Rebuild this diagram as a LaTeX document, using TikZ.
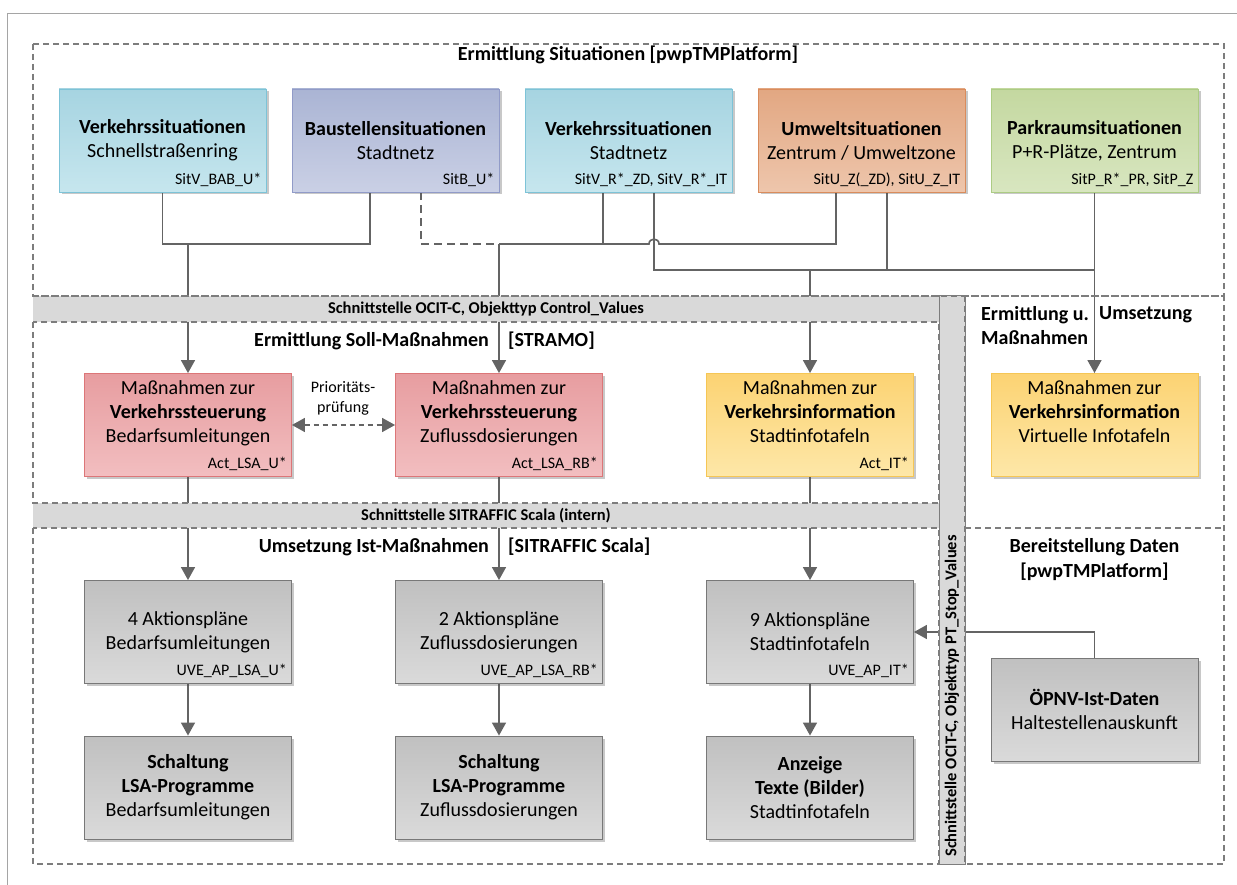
\documentclass[tikz,border=0pt]{standalone}
\usepackage{fontspec}
\setmainfont{Carlito}
\usetikzlibrary{arrows.meta,shadows}
\pgfdeclarelayer{bg}
\pgfdeclarelayer{mid}
\pgfsetlayers{bg,mid,main}
\definecolor{lineC}{RGB}{100,100,100}
\definecolor{sectC}{RGB}{125,125,125}
\definecolor{barC}{RGB}{217,217,217}
\definecolor{frameC}{RGB}{165,165,165}
\definecolor{blueT}{RGB}{166,212,225}
\definecolor{blueB}{RGB}{198,230,238}
\definecolor{blueD}{RGB}{125,195,215}
\definecolor{lavT}{RGB}{170,180,212}
\definecolor{lavB}{RGB}{202,208,229}
\definecolor{lavD}{RGB}{145,155,200}
\definecolor{oraT}{RGB}{226,167,130}
\definecolor{oraB}{RGB}{238,198,172}
\definecolor{oraD}{RGB}{218,140,92}
\definecolor{grnT}{RGB}{196,216,160}
\definecolor{grnB}{RGB}{216,230,192}
\definecolor{grnD}{RGB}{172,204,132}
\definecolor{redT}{RGB}{231,157,160}
\definecolor{redB}{RGB}{242,190,192}
\definecolor{redD}{RGB}{220,118,120}
\definecolor{yelT}{RGB}{252,211,115}
\definecolor{yelB}{RGB}{253,231,168}
\definecolor{yelD}{RGB}{245,198,85}
\definecolor{gryT}{RGB}{192,192,192}
\definecolor{gryB}{RGB}{218,218,218}
\definecolor{gryD}{RGB}{120,120,120}
\begin{document}
\begin{tikzpicture}[x=1pt,y=-1pt,
  conn/.style={draw=lineC, line width=1.6pt},
  arr/.style={conn, -{Triangle[width=14pt,length=13pt]}},
  sect/.style={draw=sectC, line width=1.2pt, dash pattern=on 6pt off 4pt},
  sbox/.style={draw, line width=0.9pt, minimum width=207pt, minimum height=103pt,
     inner sep=0pt, align=center, font=\fontsize{20}{24}\selectfont,
     drop shadow={shadow xshift=2.5pt, shadow yshift=-2.5pt, opacity=0.3, fill=black!70}},
  sblue/.style={sbox, draw=blueD, top color=blueT, bottom color=blueB},
  slav/.style={sbox, draw=lavD, top color=lavT, bottom color=lavB},
  sora/.style={sbox, draw=oraD, top color=oraT, bottom color=oraB},
  sgrn/.style={sbox, draw=grnD, top color=grnT, bottom color=grnB},
  sred/.style={sbox, draw=redD, top color=redT, bottom color=redB},
  syel/.style={sbox, draw=yelD, top color=yelT, bottom color=yelB},
  sgry/.style={sbox, draw=gryD, top color=gryT, bottom color=gryB},
  code/.style={font=\fontsize{16}{19}\selectfont, inner sep=0pt, anchor=base east},
  title/.style={font=\bfseries\fontsize{20}{24}\selectfont, inner sep=0pt},
  bartext/.style={font=\bfseries\fontsize{16.5}{19}\selectfont, inner sep=0pt},
]
\begin{pgfonlayer}{bg}
\fill[white] (0,0) rectangle (1237,885);
\end{pgfonlayer}
\useasboundingbox (0,0) rectangle (1237,885);
% outer frame
\draw[frameC, line width=1pt] (7,885) -- (7,14) -- (1237,14);

% top boxes
\node[sblue] (b1) at (162.5,140.5) {\textbf{Verkehrssituationen}\\Schnellstraßenring};
\node[slav]  (b2) at (395.5,140.5) {\textbf{Baustellensituationen}\\Stadtnetz};
\node[sblue] (b3) at (628.5,140.5) {\textbf{Verkehrssituationen}\\Stadtnetz};
\node[sora]  (b4) at (861.5,140.5) {\textbf{Umweltsituationen}\\Zentrum / Umweltzone};
\node[sgrn]  (b5) at (1094.5,140.5) {\textbf{Parkraumsituationen}\\P+R-Plätze, Zentrum};
\node[code] (c1) at ([xshift=-5pt,yshift=8pt]b1.south east) {SitV\_BAB\_U*};
\node[code] (c2) at ([xshift=-5pt,yshift=8pt]b2.south east) {SitB\_U*};
\node[code] (c3) at ([xshift=-5pt,yshift=8pt]b3.south east) {SitV\_R*\_ZD, SitV\_R*\_IT};
\node[code] (c4) at ([xshift=-5pt,yshift=8pt]b4.south east) {SitU\_Z(\_ZD), SitU\_Z\_IT};
\node[code] (c5) at ([xshift=-5pt,yshift=8pt]b5.south east) {SitP\_R*\_PR, SitP\_Z};

% action boxes
\node[sred] (a1) at (188,425) {Maßnahmen zur\\\textbf{Verkehrssteuerung}\\Bedarfsumleitungen\\\vphantom{g}};
\node[sred] (a2) at (499,425) {Maßnahmen zur\\\textbf{Verkehrssteuerung}\\Zuflussdosierungen\\\vphantom{g}};
\node[syel] (a3) at (810,425) {Maßnahmen zur\\\textbf{Verkehrsinformation}\\Stadtinfotafeln\\\vphantom{g}};
\node[syel] (v)  at (1094.5,425) {Maßnahmen zur\\\textbf{Verkehrsinformation}\\Virtuelle Infotafeln\\\vphantom{g}};
\node[code] (ca1) at ([xshift=-5pt,yshift=8pt]a1.south east) {Act\_LSA\_U*};
\node[code] (ca2) at ([xshift=-5pt,yshift=8pt]a2.south east) {Act\_LSA\_RB*};
\node[code] (ca3) at ([xshift=-5pt,yshift=8pt]a3.south east) {Act\_IT*};

% action plans
\node[sgry] (p1) at (188,632) {4 Aktionspläne\\Bedarfsumleitungen};
\node[sgry] (p2) at (499,632) {2 Aktionspläne\\Zuflussdosierungen};
\node[sgry] (p3) at (810,632) {9 Aktionspläne\\Stadtinfotafeln};
\node[code] (cp1) at ([xshift=-5pt,yshift=8pt]p1.south east) {UVE\_AP\_LSA\_U*};
\node[code] (cp2) at ([xshift=-5pt,yshift=8pt]p2.south east) {UVE\_AP\_LSA\_RB*};
\node[code] (cp3) at ([xshift=-5pt,yshift=8pt]p3.south east) {UVE\_AP\_IT*};

% switching
\node[sgry] (s1) at (188,787.5) {\textbf{Schaltung}\\\textbf{LSA-Programme}\\Bedarfsumleitungen};
\node[sgry] (s2) at (499,787.5) {\textbf{Schaltung}\\\textbf{LSA-Programme}\\Zuflussdosierungen};
\node[sgry] (s3) at (810,787.5) {\textbf{Anzeige}\\\textbf{Texte (Bilder)}\\Stadtinfotafeln};
\node[sgry] (o)  at (1094.5,709.5) {\textbf{ÖPNV-Ist-Daten}\\Haltestellenauskunft};

% section titles
\node[title] (t1) at (628,55) {Ermittlung Situationen [pwpTMPlatform]};
\node[title, anchor=east] (t2a) at (489,341) {Ermittlung Soll-Maßnahmen};
\node[title, anchor=west] (t2b) at (508,341) {[STRAMO]};
\node[title, anchor=east] (t3a) at (489,547) {Umsetzung Ist-Maßnahmen};
\node[title, anchor=west] (t3b) at (508,547) {[SITRAFFIC Scala]};
\node[title, anchor=west] (t4a) at (981,315) {Ermittlung u.};
\node[title, anchor=west] (t4b) at (1099,315) {Umsetzung};
\node[title, anchor=west] (t4c) at (981,338) {Maßnahmen};
\node[title, align=center, font=\bfseries\fontsize{20}{25}\selectfont] (t5) at (1094.5,559.5) {Bereitstellung Daten\\{[pwpTMPlatform]}};
\node[font=\fontsize{16}{20}\selectfont, align=center, inner sep=0pt] (prio) at (343,398) {Prioritäts-\\prüfung};

% bars and section frames
\begin{pgfonlayer}{mid}
\node[fill=barC, minimum width=906pt, minimum height=26pt, inner sep=0pt, bartext] (ocit) at (486,309) {Schnittstelle OCIT-C, Objekttyp Control\_Values};
\node[fill=barC, minimum width=906pt, minimum height=25pt, inner sep=0pt, bartext] (sitr) at (486,515.5) {Schnittstelle SITRAFFIC Scala (intern)};
\node[fill=barC, draw=sectC, line width=1pt, minimum width=26pt, minimum height=568pt, inner sep=0pt] (vbar) at (952,580) {};
\node[bartext, rotate=90] (vtext) at (952,696) {Schnittstelle OCIT-C, Objekttyp PT\_Stop\_Values};
\draw[sect] (33,44) rectangle (1224,296);
\draw[sect] (33,322) rectangle (939,503);
\draw[sect] (33,528) rectangle (939,864);
\draw[sect] (965,296) rectangle (1224,864);
\draw[sect] (965,528) -- (1224,528);
\draw[sect] (33,296) -- (939,296);
\end{pgfonlayer}

% connectors
\begin{pgfonlayer}{bg}
\coordinate (r1) at (0,244);
\coordinate (r2) at (0,270);
\coordinate (b2l) at ([xshift=-25.5pt]b2.south);
\coordinate (b2r) at ([xshift=25.5pt]b2.south);
\coordinate (b3l) at ([xshift=-25.5pt]b3.south);
\coordinate (b3r) at ([xshift=25.5pt]b3.south);
\coordinate (b4l) at ([xshift=-25.5pt]b4.south);
\coordinate (b4r) at ([xshift=25.5pt]b4.south);
\draw[conn] (b1.south) |- (b2l |- r1) -- (b2l);
\draw[arr] (a1.north |- r1) -- (a1.north);
\draw[conn, dash pattern=on 8pt off 5pt] (b2r) |- (a2.north |- r1);
\draw[conn] (a2.north |- r1) -- (649,244) .. controls (649,237.5) and (659,237.5) .. (659,244) -- (b4l |- r1) -- (b4l);
\draw[conn] (b3l) -- (b3l |- r1);
\draw[arr] (a2.north |- r1) -- (a2.north);
\draw[conn] (b3r) |- (b5.south |- r2);
\draw[conn] (b4r) -- (b4r |- r2);
\draw[arr] (a3.north |- r2) -- (a3.north);
\draw[arr] (b5.south) -- (v.north);
\draw[conn] (a1.south) -- (a1.south |- sitr.north);
\draw[conn] (a2.south) -- (a2.south |- sitr.north);
\draw[conn] (a3.south) -- (a3.south |- sitr.north);
\draw[arr] (p1.north |- sitr.south) -- (p1.north);
\draw[arr] (p2.north |- sitr.south) -- (p2.north);
\draw[arr] (p3.north |- sitr.south) -- (p3.north);
\draw[arr] (p1.south) -- (s1.north);
\draw[arr] (p2.south) -- (s2.north);
\draw[arr] (p3.south) -- (s3.north);
\draw[arr] (o.north) |- (p3.east);
\end{pgfonlayer}
\draw[conn, dash pattern=on 5pt off 4pt, {Triangle[width=14pt,length=13pt]}-{Triangle[width=14pt,length=13pt]}] (a1.east) -- (a2.west);
\end{tikzpicture}
\end{document}
